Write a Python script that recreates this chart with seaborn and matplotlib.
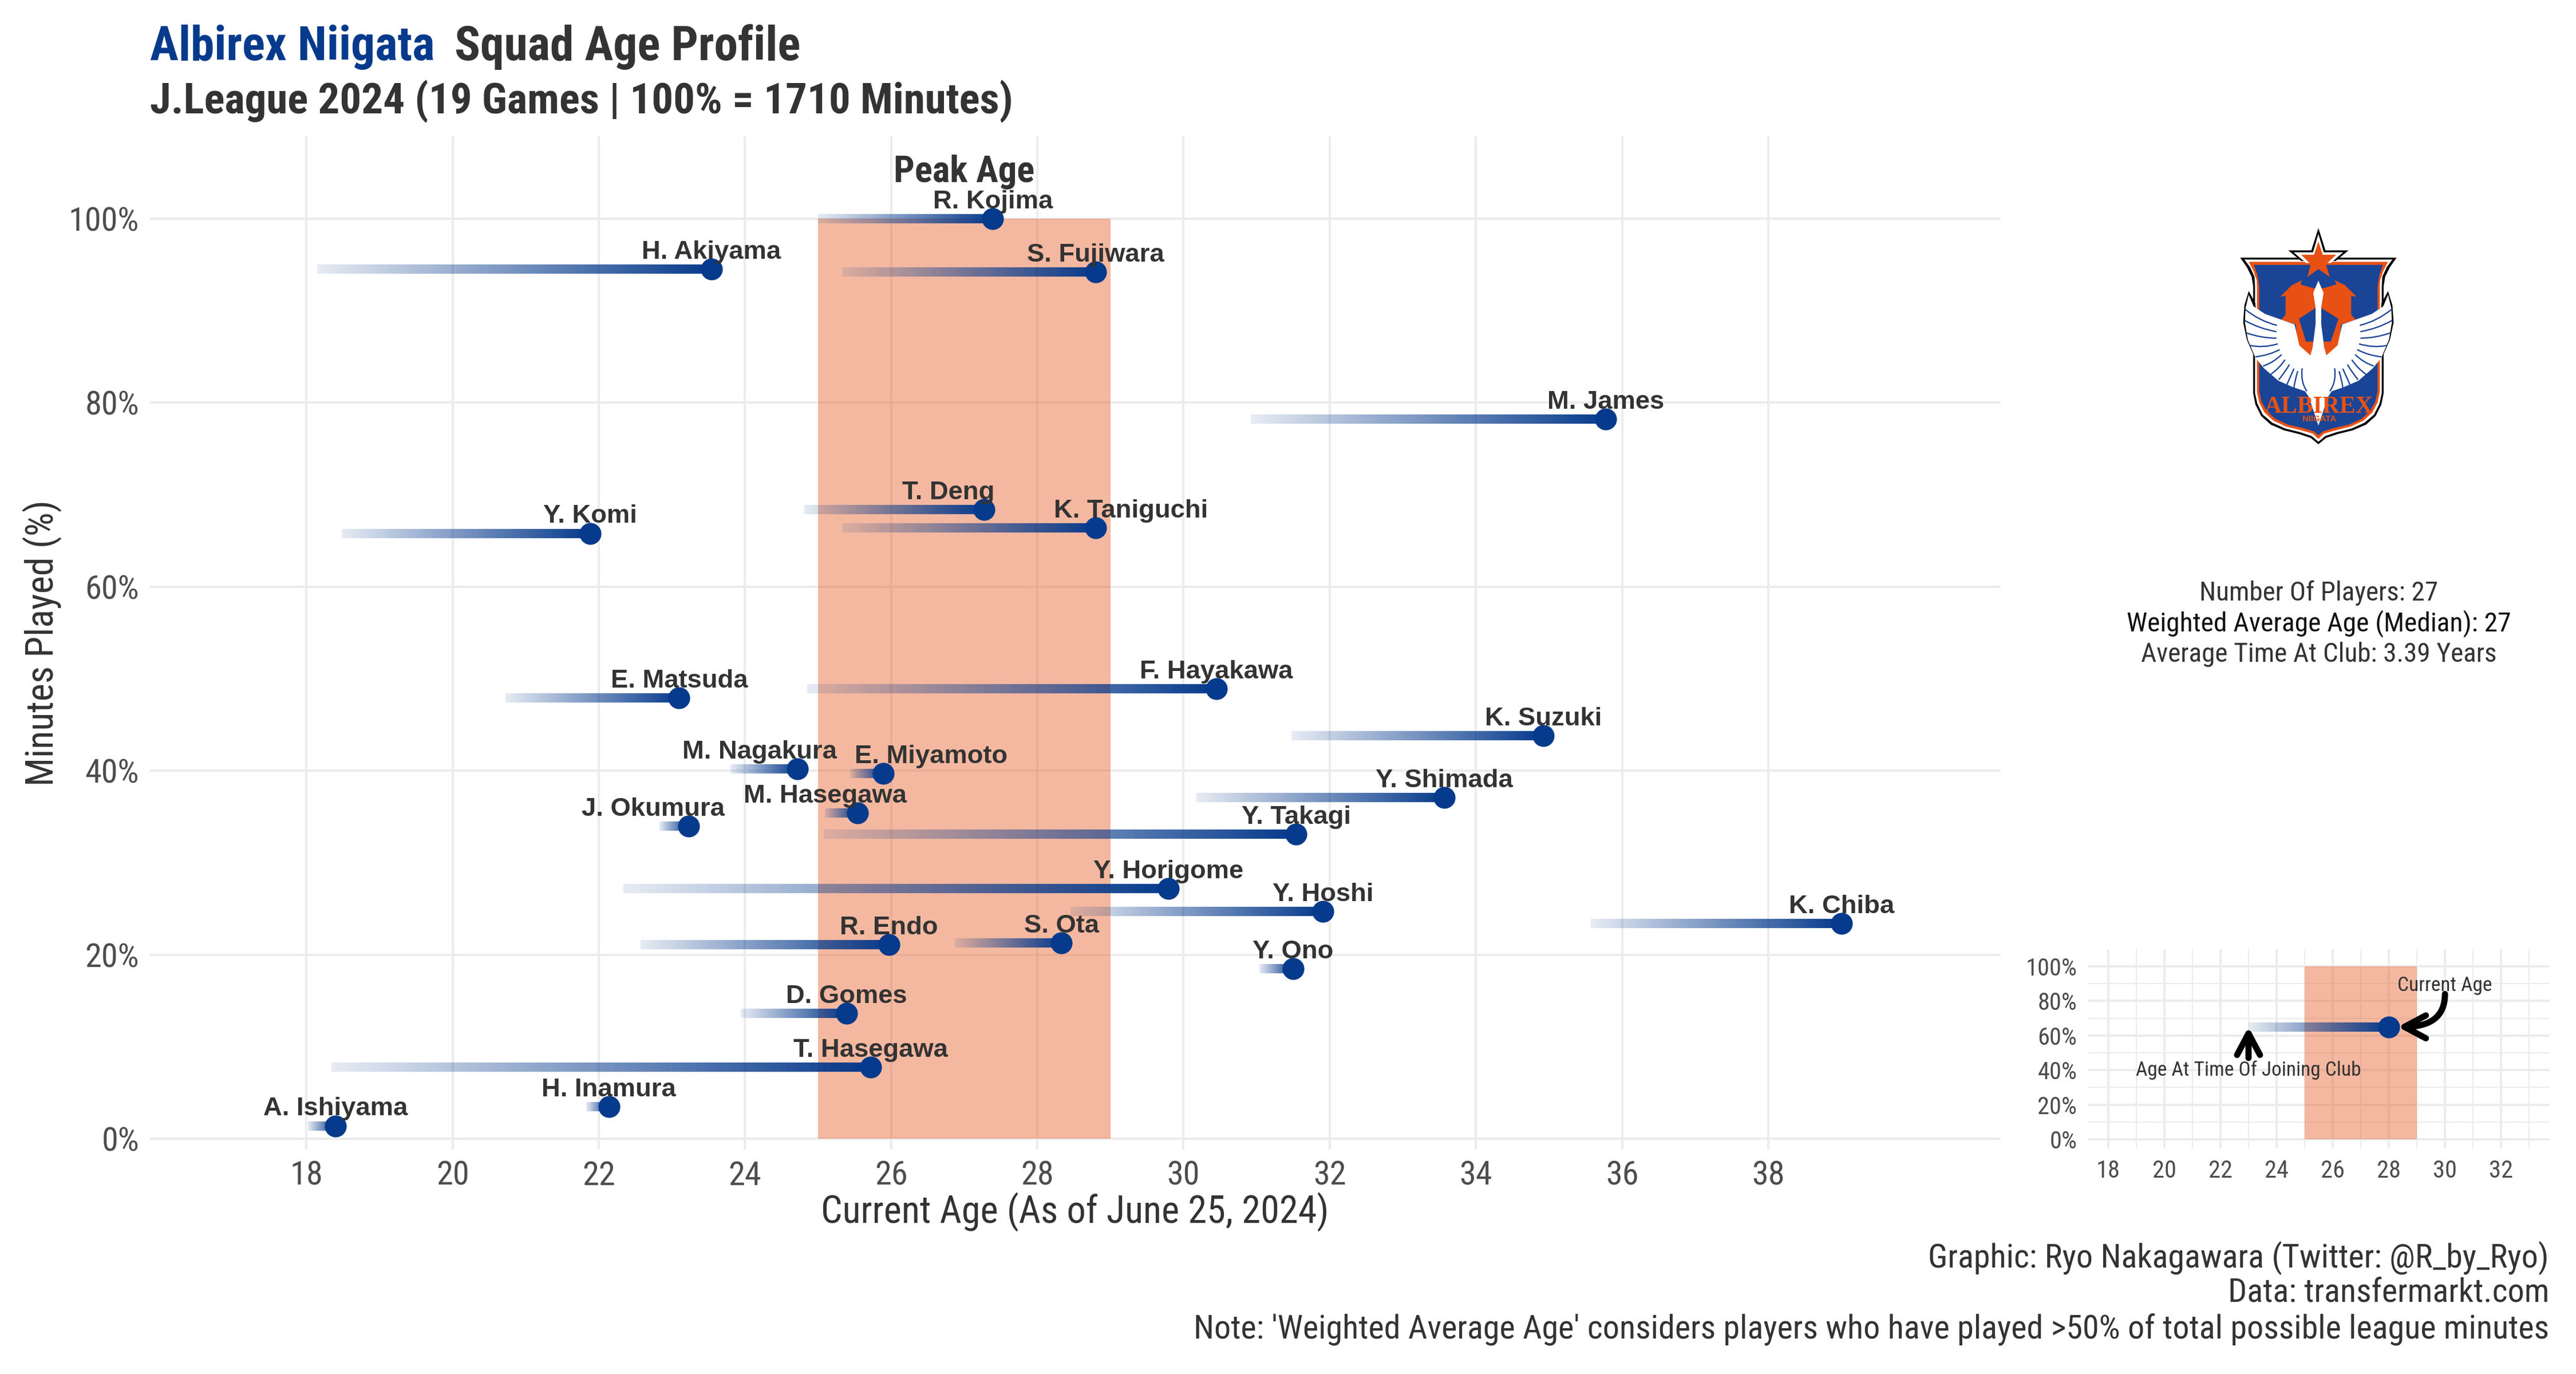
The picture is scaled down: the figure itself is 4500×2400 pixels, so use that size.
import numpy as np
import pandas as pd
import matplotlib
matplotlib.use("Agg")
import matplotlib.pyplot as plt
import seaborn as sns
from matplotlib.collections import LineCollection
from matplotlib.colors import to_rgb
from matplotlib.patches import Polygon, PathPatch
from matplotlib.path import Path

# ---------- data ----------
players = ["R. Kojima", "H. Akiyama", "S. Fujiwara", "M. James", "T. Deng", "K. Taniguchi",
           "Y. Komi", "E. Matsuda", "F. Hayakawa", "K. Suzuki", "M. Nagakura", "E. Miyamoto",
           "M. Hasegawa", "J. Okumura", "Y. Takagi", "Y. Shimada", "Y. Horigome", "Y. Hoshi",
           "R. Endo", "S. Ota", "Y. Ono", "D. Gomes", "T. Hasegawa", "H. Inamura",
           "A. Ishiyama", "K. Chiba"]
current_age = [27.39, 23.54, 28.80, 35.78, 27.27, 28.80, 21.88, 23.10, 30.45, 34.92, 24.72, 25.89,
               25.54, 23.23, 31.54, 33.57, 29.79, 31.91, 25.97, 28.33, 31.50, 25.39, 25.72, 22.14,
               18.40, 39.00]
joined_age = [25.00, 18.15, 25.34, 30.92, 24.81, 25.34, 18.48, 20.72, 24.85, 31.48, 23.80, 25.44,
              25.09, 22.83, 25.08, 30.18, 22.34, 28.45, 22.57, 26.87, 31.04, 23.94, 18.34, 21.83,
              18.02, 35.57]
minutes_pct = [100.0, 94.5, 94.2, 78.2, 68.4, 66.4, 65.8, 47.9, 48.9, 43.8, 40.2, 39.7,
               35.4, 33.96, 33.1, 37.1, 27.2, 24.7, 21.1, 21.3, 18.5, 13.6, 7.76, 3.47,
               1.4, 23.4]
peak_age = [25, 29]
age_ticks = list(range(18, 40, 2))
pct_ticks = [0, 20, 40, 60, 80, 100]
inset_age_ticks = list(range(18, 34, 2))
inset_minor_age = list(range(19, 35, 2))
inset_minor_pct = [10, 30, 50, 70, 90, 110]
example_current = [28.0]
example_joined = [23.0]
example_pct = [65.0]

# label nudges (years) for the few labels set off to one side
label_shift = {"T. Deng": -0.49, "K. Taniguchi": 0.48, "M. Nagakura": -0.52,
               "E. Miyamoto": 0.66, "M. Hasegawa": -0.44, "J. Okumura": -0.49}

BLUE = "#063A8C"
ORANGE = "#E54F13"
DARK = "#333333"
TICK = "#4D4D4D"
GRID = "#ECECEC"
COND = "Roboto Condensed"

df = pd.DataFrame({"player": players, "age": current_age, "joined": joined_age, "pct": minutes_pct})

sns.set_theme(style="whitegrid", rc={"axes.edgecolor": "white", "grid.color": GRID})
plt.rcParams["font.family"] = [COND, "DejaVu Sans"]

W, H = 4500, 2400
fig = plt.figure(figsize=(W / 300, H / 300), dpi=300, facecolor="white")


def rect(l, t, r, b):
    return [l / W, 1 - b / H, (r - l) / W, (b - t) / H]


def ftext(x, y, s, **kw):
    return fig.text(x / W, 1 - y / H, s, **kw)


def gradient(ax, x0, x1, y, n=90, lw=3.9):
    xs = np.linspace(x0, x1, n + 1)
    segs = [[(xs[i], y), (xs[i + 1], y)] for i in range(n)]
    r, g, b = to_rgb(BLUE)
    cols = [(r, g, b, a) for a in np.linspace(0.1, 1.0, n)]
    ax.add_collection(LineCollection(segs, colors=cols, linewidths=lw, capstyle="butt", zorder=3))


def style(ax, tick_size, pad_x, pad_y, major_lw):
    ax.set_facecolor("none")
    for s in ax.spines.values():
        s.set_visible(False)
    ax.set_axisbelow(True)
    ax.grid(True, which="major", color=GRID, linewidth=major_lw)
    ax.tick_params(axis="x", which="major", length=0, pad=pad_x, labelsize=tick_size, labelcolor=TICK)
    ax.tick_params(axis="y", which="major", length=0, pad=pad_y, labelsize=tick_size, labelcolor=TICK)
    ax.set_xlabel("")
    ax.set_ylabel("")


# ---------- main panel ----------
ax = fig.add_axes(rect(262, 238, 3495, 2008))
ax.set_xlim(15.86, 41.18)
ax.set_ylim(-1.18, 108.96)
ax.fill_between(peak_age, 0, 100, color=ORANGE, alpha=0.4, linewidth=0, zorder=2)
for row in df.itertuples():
    gradient(ax, row.joined, row.age, row.pct)
sns.scatterplot(data=df, x="age", y="pct", ax=ax, color=BLUE, s=84, linewidth=0,
                legend=False, zorder=5, clip_on=False)
style(ax, 14, 4.5, 4.5, 0.95)
ax.set_xticks(age_ticks)
ax.set_yticks(pct_ticks)
ax.set_yticklabels([f"{p}%" for p in pct_ticks])
for row in df.itertuples():
    ax.text(row.age + label_shift.get(row.player, 0), row.pct + 1.85, row.player,
            family="Liberation Sans", weight="bold", fontsize=10.9, color=DARK,
            ha="center", va="center", zorder=6)
ax.text(sum(peak_age) / 2, 105.05, "Peak Age", family=COND, weight="bold", fontsize=15.5,
        color=DARK, ha="center", va="center", zorder=6)

# ---------- titles and captions ----------
t1 = ftext(262, 105, "Albirex Niigata", fontsize=20, weight="bold", color=BLUE, ha="left", va="baseline")
fig.canvas.draw()
bb = t1.get_window_extent(fig.canvas.get_renderer())
ftext(bb.x1 + 34, 105, "Squad Age Profile", fontsize=20, weight="bold", color=DARK, ha="left", va="baseline")
ftext(262, 198, "J.League 2024 (19 Games | 100% = 1710 Minutes)", fontsize=18, weight="bold",
      color=DARK, ha="left", va="baseline")
ftext(1878, 2117, "Current Age (As of June 25, 2024)", fontsize=15.9, color=DARK, ha="center", va="center")
ftext(74, 1123, "Minutes Played (%)", fontsize=15.9, color=DARK, rotation=90, ha="center", va="center")
ftext(4453, 2197, "Graphic: Ryo Nakagawara (Twitter: @R_by_Ryo)", fontsize=13.95, color=DARK, ha="right", va="center")
ftext(4453, 2258, "Data: transfermarkt.com", fontsize=13.95, color=DARK, ha="right", va="center")
ftext(4453, 2322, "Note: 'Weighted Average Age' considers players who have played >50% of total possible league minutes",
      fontsize=13.95, color=DARK, ha="right", va="center")
ftext(4051, 1036, "Number Of Players: 27", fontsize=11.3, color=DARK, ha="center", va="center")
ftext(4051, 1089, "Weighted Average Age (Median): 27", fontsize=11.4, color="#111111", ha="center", va="center")
ftext(4051, 1143, "Average Time At Club: 3.39 Years", fontsize=11.3, color=DARK, ha="center", va="center")

# ---------- inset legend panel ----------
ins = fig.add_axes(rect(3647, 1658, 4454, 2006))
ins.set_xlim(17.27, 33.73)
ins.set_ylim(-5.3, 109.9)
ins.fill_between(peak_age, 0, 100, color=ORANGE, alpha=0.4, linewidth=0, zorder=2)
style(ins, 10.2, 4.5, 4.5, 0.95)
ins.set_xticks(inset_age_ticks)
ins.set_yticks(pct_ticks)
ins.set_yticklabels([f"{p}%" for p in pct_ticks])
ins.set_xticks(inset_minor_age, minor=True)
ins.set_yticks(inset_minor_pct[:-1], minor=True)
ins.tick_params(which="minor", length=0)
ins.grid(True, which="minor", color=GRID, linewidth=0.5)
gradient(ins, example_joined[0], example_current[0], example_pct[0])
sns.scatterplot(x=example_current, y=example_pct, ax=ins, color=BLUE, s=84, linewidth=0, legend=False, zorder=5)
ins.text(30, 89, "Current Age", fontsize=8.5, color=DARK, ha="center", va="center", zorder=6)
ins.text(23, 40, "Age At Time Of Joining Club", fontsize=8.5, color=DARK, ha="center", va="center", zorder=6)
arrow = dict(arrowstyle="->,head_length=0.75,head_width=0.4", color="black", lw=2.6, capstyle="round",
             joinstyle="round", shrinkA=0, shrinkB=0)
ins.annotate("", xy=(28.32, 65), xytext=(30, 84), zorder=7,
             arrowprops=dict(connectionstyle="angle3,angleA=90,angleB=0", **arrow))
ins.annotate("", xy=(23, 65), xytext=(23, 47), zorder=7,
             arrowprops=dict(connectionstyle="arc3,rad=0", **arrow))

# ---------- club crest, drawn by hand ----------
crest = fig.add_axes(rect(3800, 350, 4300, 830))
crest.set_xlim(0, 1500)
crest.set_ylim(1440, 0)
crest.axis("off")
CREST_BLUE = "#1A4496"
CREST_ORANGE = "#E85113"


def mirror(pts):
    return list(pts) + [(1500 - x, y) for x, y in reversed(pts)]


def poly(pts, color, z):
    crest.add_patch(Polygon(pts, closed=True, facecolor=color, edgecolor="none", zorder=z))


poly(mirror([(750, 300), (340, 300), (375, 350), (400, 400), (408, 450), (408, 1010), (420, 1070), (450, 1130),
             (500, 1175), (570, 1205), (650, 1225), (710, 1245), (750, 1278)]), "black", 1)
poly(mirror([(750, 310), (362, 310), (392, 350), (415, 400), (418, 450), (418, 1010), (430, 1065), (458, 1122),
             (508, 1165), (575, 1195), (655, 1215), (715, 1235), (750, 1265)]), "white", 2)
poly(mirror([(750, 322), (385, 322), (410, 370), (427, 420), (428, 450), (428, 1005), (440, 1060), (468, 1112),
             (515, 1155), (580, 1185), (660, 1205), (720, 1222), (750, 1250)]), CREST_ORANGE, 3)
poly(mirror([(750, 338), (412, 338), (430, 390), (440, 450), (440, 1000), (452, 1055), (480, 1105),
             (525, 1145), (590, 1175), (665, 1192), (725, 1210), (750, 1230)]), CREST_BLUE, 4)
poly([(750, 145), (787, 262), (908, 262), (840, 318), (660, 318), (592, 262), (713, 262)], "black", 5)
poly([(750, 175), (778, 272), (880, 272), (815, 328), (685, 328), (620, 272), (722, 272)], "white", 6)
poly([(750, 215), (773, 285), (843, 285), (790, 335), (810, 402), (750, 360), (692, 402), (710, 335),
      (660, 285), (727, 285)], CREST_ORANGE, 7)
poly(mirror([(750, 460), (722, 460), (655, 440), (665, 418), (610, 445), (550, 505), (578, 500), (578, 600),
             (555, 625), (632, 650), (640, 760), (680, 800), (710, 812), (750, 830)]), CREST_ORANGE, 8)
poly([(750, 555), (855, 620), (815, 740), (685, 740), (648, 620)], CREST_BLUE, 9)
poly([(385, 475), (362, 550), (356, 640), (375, 730), (408, 805), (430, 700), (420, 540)], "black", 5)
poly([(1115, 475), (1138, 550), (1144, 640), (1125, 730), (1092, 805), (1070, 700), (1080, 540)], "black", 5)
poly(mirror([(750, 420), (723, 485), (735, 560), (735, 650), (720, 770), (708, 812), (650, 760), (632, 680),
             (625, 650), (555, 625), (470, 595), (410, 555), (385, 495), (368, 565), (365, 640), (380, 730),
             (420, 825), (465, 880), (540, 945), (620, 980), (680, 1000), (700, 1030), (750, 1180)]), "white", 10)
feathers = [[(365, 570), (440, 632), (533, 655)], [(365, 630), (440, 672), (530, 688)],
            [(375, 695), (450, 722), (530, 722)], [(390, 760), (460, 775), (537, 752)],
            [(420, 820), (490, 812), (547, 782)], [(460, 868), (515, 850), (557, 808)],
            [(500, 912), (545, 880), (575, 835)], [(542, 940), (575, 900), (598, 860)],
            [(585, 965), (605, 920), (622, 882)], [(622, 982), (628, 935), (642, 895)],
            [(690, 1000), (655, 950), (665, 880)]]
for f in feathers:
    for pts in (f, [(1500 - x, y) for x, y in f]):
        crest.add_patch(PathPatch(Path(pts, [Path.MOVETO, Path.CURVE3, Path.CURVE3]), facecolor="none",
                                  edgecolor=CREST_BLUE, linewidth=0.55, zorder=11))
crest.text(752, 1112, "ALBIREX", family="Liberation Serif", weight="bold", fontsize=10, color=CREST_ORANGE,
           ha="center", va="baseline", zorder=12)
crest.text(755, 1145, "NIIGATA", family="Liberation Sans", weight="bold", fontsize=3.6, color=CREST_ORANGE,
           ha="center", va="center", zorder=12)

fig.savefig("out.png", dpi=300, facecolor="white")
